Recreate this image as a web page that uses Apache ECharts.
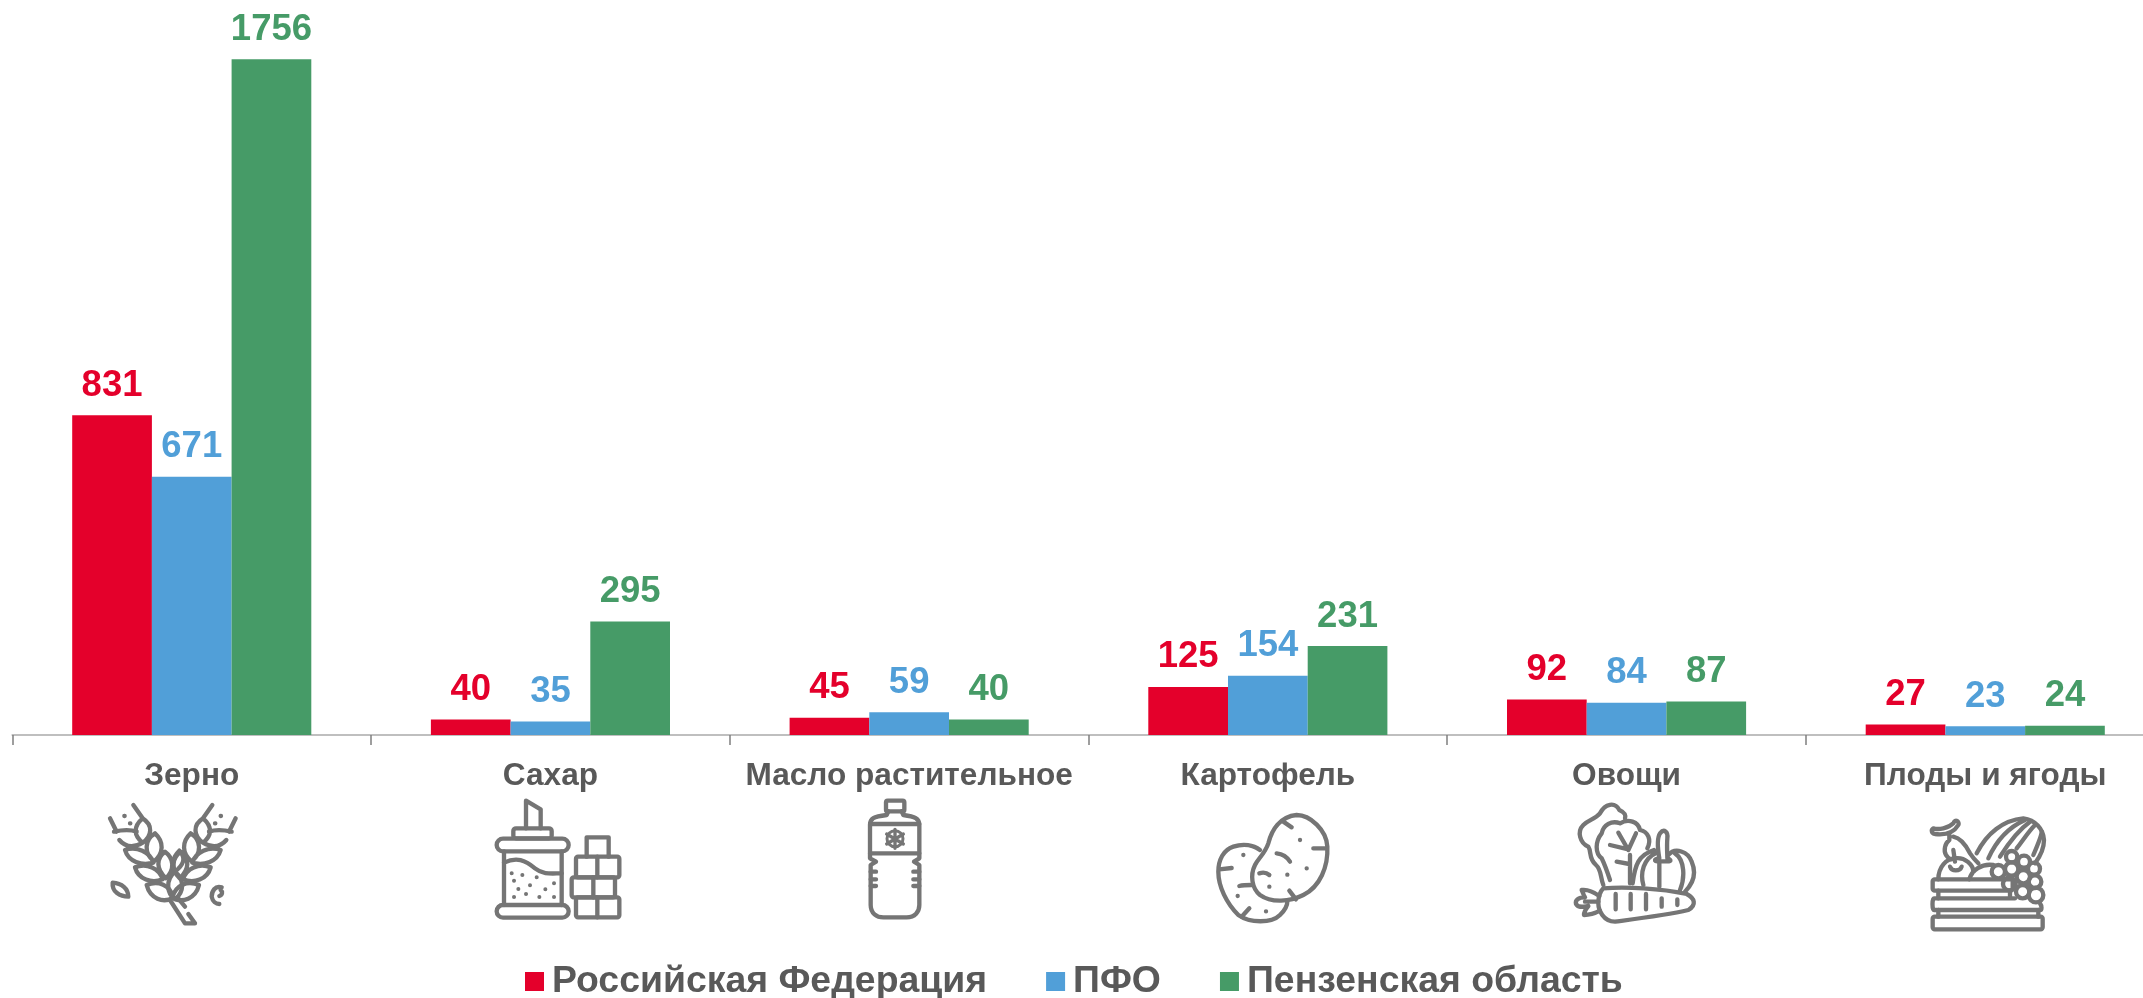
<!DOCTYPE html>
<html><head><meta charset="utf-8">
<style>html,body{margin:0;padding:0;background:#fff}#c{width:2143px;height:998px}</style>
<script src="https://cdn.jsdelivr.net/npm/echarts@6/dist/echarts.min.js"></script>
</head><body><div id="c"></div>
<script>
const categories = ['Зерно','Сахар','Масло растительное','Картофель','Овощи','Плоды и ягоды'];
const seriesNames = ['Российская Федерация','ПФО','Пензенская область'];
const russia = [831,40,45,125,92,27];
const pfo = [671,35,59,154,84,23];
const penza = [1756,295,40,231,87,24];
const colors = ['#E4002B','#519FD8','#469B67'];
const textGrey = '#595959';
const font = '"Liberation Sans", Arial, sans-serif';

const grain = 'M158,85C128,110 132,138 158,158C186,138 190,105 158,85Z M195,130C162,150 162,190 192,214C222,190 222,155 195,130Z M225,185C198,205 198,238 228,265C255,238 252,205 225,185Z M105,180C115,215 155,228 190,218C180,185 140,168 105,180Z M135,232C145,268 185,282 218,268C208,235 170,218 135,232Z M170,285C180,325 220,342 250,322C240,285 205,270 170,285Z M88,150C105,170 130,175 158,158 M72,125C95,120 120,118 140,125 M130,45L158,85 M60,85L80,125';
const wheat = `<path d="${grain}"/><path transform="translate(497,0) scale(-1,1)" d="${grain}"/>
<path d="M255,245C226,270 230,310 255,328C283,305 284,270 255,245Z"/>
<path d="M268,182C245,205 245,225 255,245C280,225 290,205 268,182Z"/>
<path d="M240,330L285,400H315L295,372 M262,322L285,350"/>
<path d="M68,278C95,280 115,295 115,320C90,320 65,305 68,278Z"/>
<path d="M395,292C375,285 365,305 365,320C368,335 378,342 388,342 M388,318C398,315 398,305 392,300"/>
<path d="M103,78h1M120,100h1M392,78h1M375,100h1"/>`;
const sugar = `<path d="M138,115V32L182,58V115"/><rect x="100" y="115" width="115" height="30" rx="8"/><rect x="50" y="146" width="216" height="38" rx="19"/>
<path d="M72,184V345M245,184V345"/><rect x="50" y="345" width="216" height="38" rx="19"/>
<path d="M72,218C110,200 135,210 165,235C190,255 215,250 245,250"/>
<path stroke-width="12" d="M95,250h.1M127,255h.1M170,262h.1M222,280h.1M102,272h.1M150,286h.1M115,297h.1M196,298h.1M138,312h.1M102,321h.1M178,321h.1M222,321h.1"/>
<path d="M320,200V142H386V200"/><rect x="288" y="200" width="130" height="62" rx="6"/><path d="M352,200V262"/>
<rect x="275" y="262" width="130" height="60" rx="6"/><path d="M340,262V322"/>
<rect x="288" y="322" width="130" height="60" rx="6"/><path d="M352,322V382"/>`;
const bottle = `<rect x="138" y="32" width="55" height="32" rx="5"/>
<path d="M145,64L140,75C100,80 90,85 90,105V205L108,215L92,225V345C92,370 110,382 130,382H200C225,382 238,365 238,345V225L222,215L238,205V105C238,85 225,80 190,75L185,64"/>
<path d="M90,102H238M90,190H238M92,245H108M92,268H108M92,288H108M238,245H220M238,268H220M238,288H220"/>
<path stroke-width="10" d="M165,118V175M140,132L190,162M190,132L140,162"/><circle cx="165" cy="146" r="24" stroke-width="9"/>`;
const potato = `<path d="M180,150C160,135 130,130 100,140C70,150 55,180 55,215C55,260 80,310 115,345C150,370 215,370 240,345C255,330 262,315 262,305"/>
<path d="M290,45C330,45 380,90 382,140C385,200 360,260 310,285C270,305 215,310 180,285C155,265 150,225 165,195C175,175 195,160 205,130C215,90 240,50 290,45Z"/>
<path d="M250,65L275,82M340,145L380,145M230,160C250,162 262,172 270,185M178,220C190,216 200,218 208,225M268,272L288,298M118,258C130,255 140,255 155,255M58,208L95,204M148,325L125,350"/>
<path stroke-width="13" d="M300,120h.1M320,205h.1M262,224h.1M208,260h.1M130,165h.1M113,288h.1M198,334h.1"/>`;
const veg = `<path d="M130,285C120,260 125,240 108,225C85,205 95,185 85,170C60,160 50,125 70,105C85,90 105,88 120,70C135,40 165,35 178,60C195,68 198,75 195,85"/>
<path d="M150,270C140,240 135,225 125,205C105,190 105,155 125,130C130,105 155,90 180,100C205,85 235,95 240,120C265,125 275,150 262,175"/>
<path d="M210,280V195M175,128L205,180L228,130M150,165L205,178M170,215L208,222"/>
<path d="M218,280C225,225 235,195 282,180 M250,285C240,250 250,205 290,188 M325,195C345,170 385,185 395,215C410,250 400,280 375,305 M345,190C375,210 375,265 360,300"/>
<path d="M298,205C292,170 290,145 300,130C312,115 325,125 322,145C320,170 322,190 322,205C335,210 335,215 318,214H292C282,214 282,206 298,205ZM298,215V290"/>
<path d="M130,295C200,290 300,295 380,312C405,325 410,345 385,360C320,375 240,385 165,395C130,395 115,360 115,340C115,320 120,305 130,295Z"/>
<path d="M118,318C100,305 80,298 65,300C70,310 70,315 75,322C55,322 45,330 48,342C55,355 70,350 85,348C75,360 72,365 72,375C90,375 105,370 120,362 M75,335H115"/>
<path d="M167,312V358M212,312V358M258,312V358M305,325V350M352,328V345"/>`;
const fruit = `<path d="M200,160C230,100 280,60 340,55C375,60 400,85 402,120C402,145 390,170 375,190"/>
<path d="M235,175C260,120 300,80 345,60M270,170C295,130 325,90 360,65M370,165C385,130 395,105 395,95M320,145C340,120 355,95 375,75"/>
<path d="M70,85C85,90 115,85 130,70C135,55 150,65 145,75C130,100 100,105 75,102C65,100 62,90 70,85Z M118,102V120C105,130 100,150 108,165C118,180 125,180 130,175 M130,110C155,115 170,140 180,160C190,175 195,180 205,190"/>
<path d="M85,238C85,200 110,175 135,175C165,170 190,195 190,215 M130,150L135,185 M120,200C125,215 150,215 155,200 M178,238C185,210 215,190 250,195"/>
<rect x="68" y="238" width="240" height="34" rx="6"/><path d="M85,272V295M300,272V292"/>
<path d="M315,295H72C66,295 66,330 72,330H390C396,330 396,318 390,310"/>
<path d="M85,330V350M385,330V350"/><rect x="68" y="350" width="330" height="38" rx="6"/>
<circle cx="265" cy="215" r="20"/><circle cx="305" cy="207" r="20"/><circle cx="342" cy="185" r="18"/><circle cx="372" cy="206" r="18"/><circle cx="305" cy="170" r="17"/><circle cx="340" cy="230" r="20"/><circle cx="375" cy="245" r="19"/><circle cx="298" cy="252" r="19"/><circle cx="338" cy="275" r="20"/><circle cx="378" cy="285" r="22"/>`;

const icons = [
  {x:90,y:790,w:180,h:150,blur:.45,body:wheat},
  {x:480,y:790,w:180,h:150,blur:.45,body:sugar},
  {x:840,y:790,w:100,h:150,blur:.45,body:bottle},
  {x:1200,y:800,w:150,h:125,blur:.7,body:potato},
  {x:1560,y:790,w:150,h:140,blur:.45,body:veg},
  {x:1910,y:800,w:150,h:140,blur:.45,body:fruit}
];
function iconUri(ic){
  const vw=ic.w*3, vh=ic.h*3;
  const svg=`<svg xmlns="http://www.w3.org/2000/svg" width="${ic.w}" height="${ic.h}" viewBox="0 0 ${vw} ${vh}"><defs><filter id="b"><feGaussianBlur stdDeviation="${ic.blur*3}"/></filter></defs><g fill="none" stroke="#757575" stroke-width="13" stroke-linecap="round" stroke-linejoin="round" filter="url(#b)">${ic.body}</g></svg>`;
  return 'data:image/svg+xml;charset=utf-8,'+encodeURIComponent(svg);
}

const chart = echarts.init(document.getElementById('c'),null,{renderer:'canvas'});
function makeSeries(name,data,i){
  return {name,type:'bar',data,barWidth:79.7,barGap:0,animation:false,
    itemStyle:{color:colors[i]},
    label:{show:true,position:'top',distance:11,color:colors[i],fontFamily:font,fontWeight:'bold',fontSize:36.5}};
}
chart.setOption({
  animation:false,
  backgroundColor:'#fff',
  grid:{left:12.4,top:42.4,right:-21.6,height:692.6,containLabel:false,outerBoundsMode:'none'},
  legend:{left:520,top:958,itemWidth:19,itemHeight:19,itemGap:59,icon:'rect',
    data:seriesNames,selectedMode:false,
    textStyle:{fontFamily:font,fontWeight:'bold',fontSize:37.4,color:textGrey,padding:[0,0,0,3]}},
  xAxis:{type:'category',data:categories,
    axisLine:{show:true,lineStyle:{color:'#BFBFBF',width:2}},
    axisTick:{show:true,length:10,lineStyle:{color:'#7F7F7F',width:1.5}},
    axisLabel:{interval:0,margin:25,fontFamily:font,fontWeight:'bold',fontSize:31.6,color:textGrey}},
  yAxis:{type:'value',min:0,max:1800,show:false,splitLine:{show:false}},
  series:[makeSeries(seriesNames[0],russia,0),makeSeries(seriesNames[1],pfo,1),makeSeries(seriesNames[2],penza,2)],
  graphic:icons.map(ic=>({type:'image',x:ic.x,y:ic.y,silent:true,style:{image:iconUri(ic),width:ic.w,height:ic.h}}))
});
</script></body></html>
